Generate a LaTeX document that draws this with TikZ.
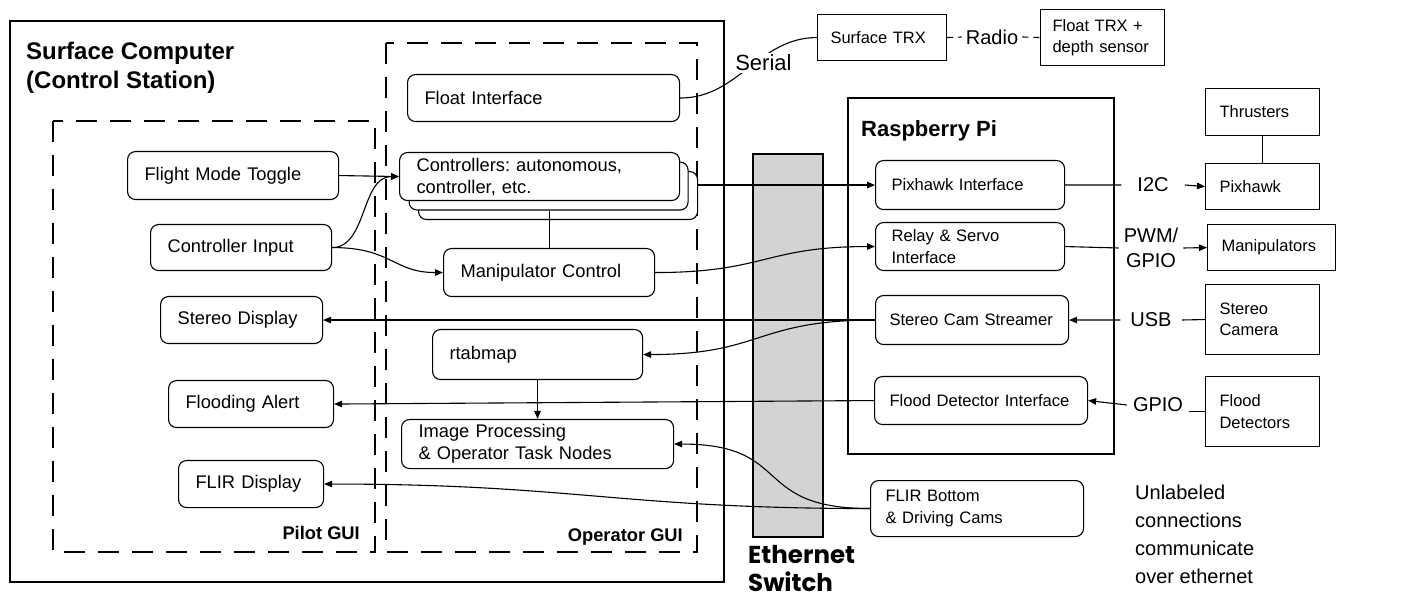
\documentclass[tikz,border=0pt]{standalone}
\usepackage{fontspec}
\setmainfont{Liberation Sans}
\newfontfamily\switchfont{Poppins}
\usetikzlibrary{arrows.meta}
\definecolor{switchgray}{RGB}{211,211,211}
\frenchspacing

\tikzset{
  gui/.style={draw, rounded corners=8pt, line width=1.1pt, align=left,
    inner ysep=0pt, inner xsep=17pt, anchor=north west,
    font=\fontsize{18.3}{22}\selectfont},
  pinode/.style={gui, inner xsep=16pt, font=\fontsize{16.6}{21.5}\selectfont},
  dev/.style={draw, line width=1.1pt, align=left, inner ysep=0pt,
    inner xsep=14pt, anchor=north west, font=\fontsize{16.5}{21.5}\selectfont},
  link/.style={line width=1.1pt, -{Triangle[length=8pt,width=6.5pt]}},
  wire/.style={line width=1.1pt},
  container/.style={line width=2.6pt},
  group/.style={line width=2.6pt, dash pattern=on 21pt off 13pt},
  proto/.style={font=\fontsize{20}{25}\selectfont, inner ysep=0pt, align=center},
  radiodash/.style={line width=1.1pt, dash pattern=on 6pt off 5pt}
}

\begin{document}
\begin{tikzpicture}[x=1pt, y=-1pt]
\path[use as bounding box] (0,0) rectangle (1406,601);

% containers
\draw[container] (10,21) rectangle (724,582);
\draw[group] (53,121) rectangle (375,552);
\draw[group] (386,43) rectangle (697,552);
\draw[container] (848,98) rectangle (1114,454);
\node[draw, fill=switchgray, line width=2.2pt, minimum width=70pt,
      minimum height=383pt, anchor=north west, inner sep=0pt] (sw) at (752,153) {};

% titles
\node[anchor=north west, inner sep=0pt, align=left,
      font=\fontsize{24}{29}\selectfont\bfseries] (sctitle) at (26,42)
      {Surface Computer\\(Control Station)};
\node[anchor=base west, inner sep=0pt, font=\fontsize{22}{26}\selectfont\bfseries]
      (rpititle) at (861,137) {Raspberry Pi};
\node[anchor=base east, inner sep=0pt, font=\fontsize{18.3}{22}\selectfont\bfseries]
      (pilotlbl) at (360,539) {Pilot GUI};
\node[anchor=base east, inner sep=0pt, font=\fontsize{18.3}{22}\selectfont\bfseries]
      (oplbl) at (683,541) {Operator GUI};
\node[anchor=north west, inner sep=0pt, align=left,
      font=\switchfont\bfseries\fontsize{24.5}{28}\selectfont] (swlbl) at (748,545)
      {Ethernet\\Switch};
\node[anchor=west, inner sep=0pt, align=left, font=\fontsize{20}{28}\selectfont]
      (note) at (1135,534) {Unlabeled\\connections\\communicate\\over ethernet};

% pilot GUI
\node[gui, text width=177pt, minimum height=48pt] (fmt) at (127,151) {Flight Mode Toggle};
\node[gui, text width=147pt, minimum height=46pt] (ci) at (150,224) {Controller Input};
\node[gui, text width=128pt, minimum height=47pt] (sd) at (160,296) {Stereo Display};
\node[gui, text width=131pt, minimum height=47pt] (fa) at (168,380) {Flooding Alert};
\node[gui, text width=111pt, minimum height=47pt] (flird) at (178,460) {FLIR Display};

% operator GUI
\node[gui, text width=238pt, minimum height=47pt] (fi) at (407,74) {Float Interface};
\node[gui, fill=white, minimum width=279pt, minimum height=48pt] (ctrl3) at (418,171) {};
\node[gui, fill=white, minimum width=279pt, minimum height=48pt] (ctrl2) at (408.5,161.5) {};
\node[gui, fill=white, text width=246pt, minimum height=48pt] (ctrl) at (399,152)
      {Controllers: autonomous,\\controller, etc.};
\node[gui, text width=177pt, minimum height=48pt] (mc) at (443,248) {Manipulator Control};
\node[gui, text width=176pt, minimum height=50pt] (rtab) at (432,329) {rtabmap};
\node[gui, text width=238pt, minimum height=49pt] (ip) at (401,419)
      {Image Processing\\\& Operator Task Nodes};

% Raspberry Pi
\node[pinode, text width=157pt, minimum height=49pt] (pxi) at (875,160) {Pixhawk Interface};
\node[pinode, text width=157pt, minimum height=48pt] (rsi) at (875,222)
      {Relay \& Servo\\Interface};
\node[pinode, inner xsep=14pt, text width=165pt, minimum height=49pt] (scs) at (875,295)
      {Stereo Cam Streamer};
\node[pinode, inner xsep=15pt, text width=183pt, minimum height=48pt] (fdi) at (874,376)
      {Flood Detector Interface};
\node[pinode, inner xsep=15pt, text width=183pt, minimum height=56pt] (flirb) at (870,480)
      {FLIR Bottom\\\& Driving Cams};

% hardware
\node[dev, inner xsep=13pt, text width=103pt, minimum height=46pt] (strx) at (817,14) {Surface TRX};
\node[dev, inner xsep=12pt, text width=100pt, minimum height=56pt] (ftrx) at (1040,9)
      {Float TRX +\\depth sensor};
\node[dev, text width=86pt, minimum height=47pt] (thr) at (1205,88) {Thrusters};
\node[dev, text width=86pt, minimum height=46pt] (pix) at (1205,163) {Pixhawk};
\node[dev, text width=100pt, minimum height=46pt] (manip) at (1207,224) {Manipulators};
\node[dev, text width=86pt, minimum height=70pt] (scam) at (1205,284) {Stereo\\Camera};
\node[dev, text width=86pt, minimum height=70pt] (fdet) at (1205,376) {Flood\\Detectors};

% link labels
\node[proto, inner xsep=16pt] (i2c) at (1153,185) {I2C};
\node[proto, inner xsep=5pt] (pwm) at (1151,248) {PWM/\\GPIO};
\node[proto, inner xsep=10pt] (usb) at (1151,320) {USB};
\node[proto, inner xsep=6pt] (gpio) at (1158,405) {GPIO};
\node[proto, inner xsep=4pt] (radio) at (992,37) {Radio};

% surface-side links
\draw[link] (fmt.east) -- (ctrl.west);
\draw[link] (ci.east) .. controls +(35,0) and +(-38,0) .. (ctrl.west);
\draw[link] (ci.east) .. controls +(60,0) and +(-50,0) .. (mc.west);
\draw[wire] (ctrl2.south -| mc.north) -- (mc.north);
\draw[link] (rtab.south) -- (ip.north);

% links across the switch
\draw[link] (ctrl3.east |- pxi.west) -- (pxi.west);
\draw[link] (mc.east) .. controls +(110,0) and +(-110,0) .. (rsi.west);
\draw[link] (scs.west) -- (sd.east);
\draw[link] (scs.west) .. controls +(-120,0) and +(120,0) .. (rtab.east);
\draw[link] (fdi.west) -- (fa.east);
\draw[link] (flirb.west) .. controls +(-120,0) and +(120,0) .. (ip.east);
\draw[link] (flirb.west) .. controls +(-250,0) and +(250,0) .. (flird.east);

% float link
\draw[wire] (fi.east) to[out=0, in=180]
  node[pos=0.6, xshift=3pt, yshift=-4pt, fill=white, inner sep=2pt,
       font=\fontsize{22}{26}\selectfont, name=serial] {Serial}
  (strx.west);
\draw[radiodash] (strx.east) -- (radio.west);
\draw[radiodash] (radio.east) -- (ftrx.west);

% hardware links
\draw[wire] (thr.south) -- (pix.north);
\draw[wire] (pxi.east) -- (i2c.west);
\draw[link] (i2c.east) -- (pix.west);
\draw[wire] (rsi.east) -- (pwm.west);
\draw[link] (pwm.east) -- (manip.west);
\draw[wire] (scam.west) -- (usb.east);
\draw[link] (usb.west) -- (scs.east);
\draw[wire] (fdet.west) -- (fdet.west -| gpio.east);
\draw[link] (gpio.west) -- (fdi.east);
\end{tikzpicture}
\end{document}
